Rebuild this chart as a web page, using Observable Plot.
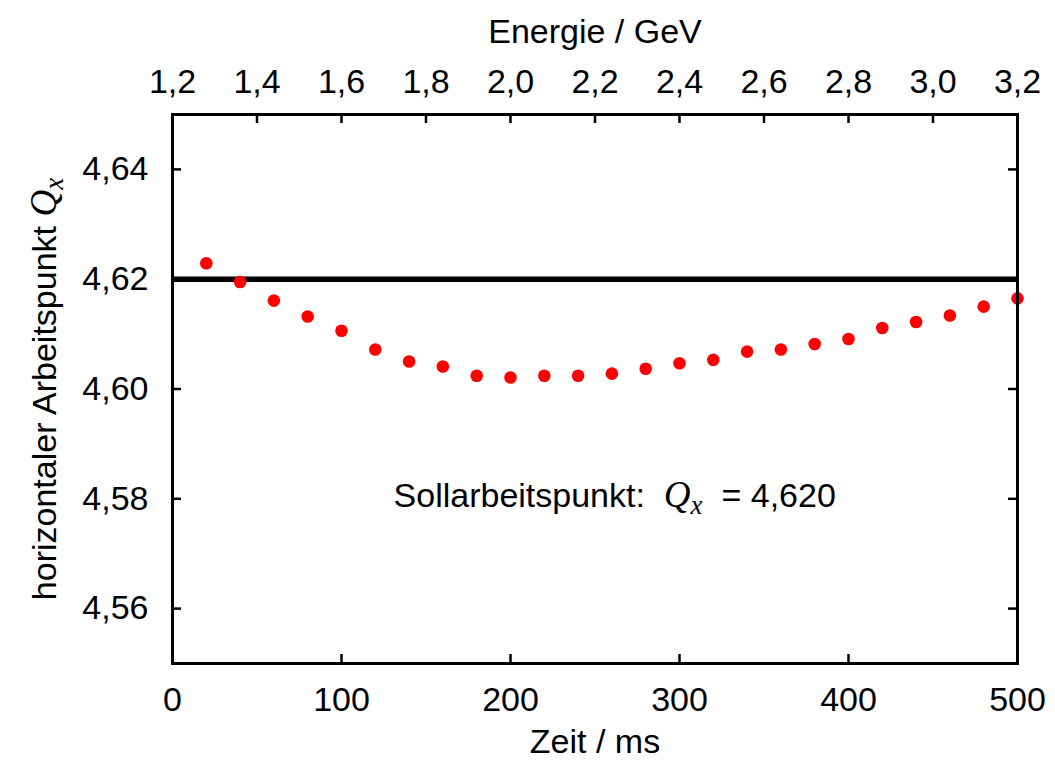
<!DOCTYPE html>
<html>
<head>
<meta charset="utf-8">
<script src="https://cdn.jsdelivr.net/npm/d3@7"></script>
<script src="https://cdn.jsdelivr.net/npm/@observablehq/plot@0.6"></script>
<style>
  html, body { margin: 0; padding: 0; background: #fff; }
  #chart { width: 1055px; height: 765px; }
</style>
</head>
<body>
<div id="chart"></div>
<script>
// ---- data ----
const zeit = [20, 40, 60, 80, 100, 120, 140, 160, 180, 200, 220, 240, 260, 280, 300, 320, 340, 360, 380, 400, 420, 440, 460, 480, 500];
const qx = [4.6229, 4.6195, 4.6161, 4.6132, 4.6106, 4.6072, 4.6050, 4.6041, 4.6024, 4.6021, 4.6024, 4.6024, 4.6028, 4.6037, 4.6047, 4.6053, 4.6068, 4.6072, 4.6082, 4.6091, 4.6111, 4.6122, 4.6134, 4.6150, 4.6165];
const sollwert = [4.620];
const zeitTicks = [0, 100, 200, 300, 400, 500];
const energieTicks = [1.2, 1.4, 1.6, 1.8, 2.0, 2.2, 2.4, 2.6, 2.8, 3.0, 3.2];
const qxTicks = [4.56, 4.58, 4.60, 4.62, 4.64];
const zeitDomain = [0, 500];
const energieDomain = [1.2, 3.2];
const qxDomain = [4.55, 4.65];

const points = zeit.map((t, i) => ({t, q: qx[i]}));
const e2t = d3.scaleLinear().domain(energieDomain).range(zeitDomain);
const comma = (d, n) => d.toFixed(n).replace(".", ",");

const W = 1055, H = 765;
const mL = 172, mR = 38, mT = 114, mB = 102;
const pw = W - mL - mR, ph = H - mT - mB;
const tl = 9, tw = 2.5;
const font = "'Liberation Sans', Arial, Helvetica, sans-serif";
const fs = 34;

const chart = Plot.plot({
  width: W, height: H,
  marginLeft: mL, marginRight: mR, marginTop: mT, marginBottom: mB,
  style: {fontFamily: font, fontSize: fs + "px", color: "#000", background: "#fff"},
  x: {domain: zeitDomain, axis: null},
  y: {domain: qxDomain, axis: null},
  marks: [
    Plot.ruleY(sollwert, {y: d => d, stroke: "#000", strokeWidth: 5.5}),
    Plot.dot(points, {x: "t", y: "q", r: 6.3, fill: "#ff0000", stroke: "none"}),
    // inward ticks
    Plot.tickX(zeitTicks, {x: d => d, insetTop: ph - tl, stroke: "#000", strokeWidth: tw}),
    Plot.tickX(energieTicks, {x: d => e2t(d), insetBottom: ph - tl, stroke: "#000", strokeWidth: tw}),
    Plot.tickY(qxTicks, {y: d => d, insetRight: pw - tl, stroke: "#000", strokeWidth: tw}),
    Plot.tickY(qxTicks, {y: d => d, insetLeft: pw - tl, stroke: "#000", strokeWidth: tw}),
    Plot.frame({stroke: "#000", strokeWidth: 3}),
    // tick labels
    Plot.text(zeitTicks, {x: d => d, frameAnchor: "bottom", dy: 47, lineAnchor: "bottom", text: d => String(d), fontSize: fs, fill: "#000"}),
    Plot.text(energieTicks, {x: d => e2t(d), frameAnchor: "top", dy: -22, lineAnchor: "bottom", text: d => comma(d, 1), fontSize: fs, fill: "#000"}),
    Plot.text(qxTicks, {y: d => d, frameAnchor: "left", dx: -24, textAnchor: "end", text: d => comma(d, 2), fontSize: fs, fill: "#000"}),
    // axis titles
    Plot.text(["Zeit / ms"], {frameAnchor: "bottom", dy: 89, lineAnchor: "bottom", text: d => d, fontSize: fs, fill: "#000"}),
    Plot.text(["Energie / GeV"], {frameAnchor: "top", dy: -72, lineAnchor: "bottom", text: d => d, fontSize: fs, fill: "#000"}),
    Plot.text(["horizontaler Arbeitspunkt |Q|x"], {frameAnchor: "left", dx: -117, rotate: -90, textAnchor: "middle", lineAnchor: "bottom", text: d => d, fontSize: fs, fill: "#000", className: "qlabel"}),
    // annotation
    Plot.text(["Sollarbeitspunkt:  |Q|x|  = " + comma(sollwert[0], 3)], {x: 130.8, y: 4.5785, textAnchor: "start", lineAnchor: "bottom", text: d => d, fontSize: fs, fill: "#000", className: "qlabel"})
  ]
});

// rich text: italic serif Q with subscript x
d3.select(chart).selectAll("g.qlabel text").each(function () {
  const parts = this.textContent.split("|");
  const el = d3.select(this);
  el.text(null).attr("xml:space", "preserve").style("white-space", "pre");
  el.append("tspan").text(parts[0]);
  el.append("tspan").text(parts[1])
    .attr("font-family", "'Liberation Serif', 'Times New Roman', serif")
    .attr("font-style", "italic").attr("font-size", 37);
  el.append("tspan").text(parts[2])
    .attr("font-family", "'Liberation Serif', 'Times New Roman', serif")
    .attr("font-style", "italic").attr("font-size", 27).attr("dy", 7);
  if (parts.length > 3) el.append("tspan").text(parts[3]).attr("dy", -7);
});

document.getElementById("chart").appendChild(chart);
</script>
</body>
</html>
